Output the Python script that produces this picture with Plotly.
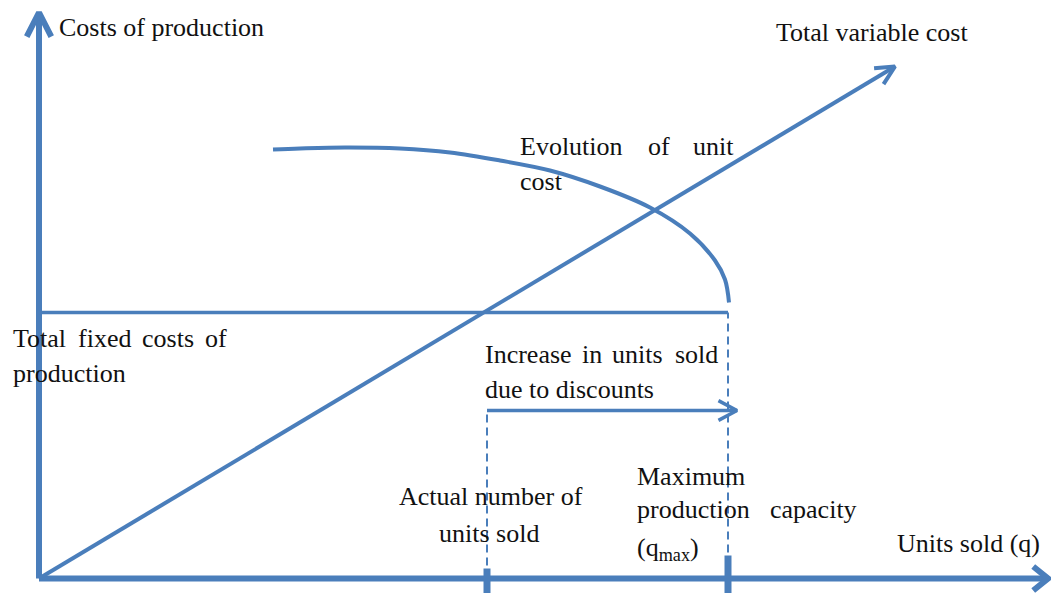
import math
import plotly.graph_objects as go

# ---------------- data (conceptual units: q = units sold, cost) ----------------
axis_q_max = 1009          # extent of the q axis arrow
axis_cost_max = 566        # extent of the cost axis arrow
q_actual = 448             # actual number of units sold
q_max = 689                # maximum production capacity
fixed_cost = 266           # total fixed cost level
tvc_q = [0, 856]           # total variable cost line
tvc_cost = [0, 512]
increase_level = 168       # height of the "increase in units sold" arrow
increase_end = 698
unit_cost_q = [234, 261, 306, 361, 411, 461, 511, 561, 611, 651, 676, 686, 690]
unit_cost = [429, 430, 431, 430, 426, 418, 408, 392, 371, 345, 318, 299, 276]
tick_len_actual = 10       # tick heights above the q axis
tick_len_max = 23

BLUE = "#4A7EBB"
FONT = dict(family="Liberation Serif, serif", size=26, color="#111111")

# pixel helpers for text placement (origin of axes at pixel 39, 578.5)
OX, OY = 39, 578.5
def px(x):
    return x - OX
def py(y):
    return OY - y

fig = go.Figure()

def line(xs, ys, width, dash=None):
    fig.add_trace(go.Scatter(x=xs, y=ys, mode="lines", hoverinfo="skip",
                             line=dict(color=BLUE, width=width, dash=dash,
                                       shape="linear")))

def chevron(tip_x, tip_y, dx, dy, length, half_angle_deg, width):
    ang = math.atan2(dy, dx) + math.pi
    h = math.radians(half_angle_deg)
    a1 = (tip_x + length * math.cos(ang + h), tip_y + length * math.sin(ang + h))
    a2 = (tip_x + length * math.cos(ang - h), tip_y + length * math.sin(ang - h))
    line([a1[0], tip_x, a2[0]], [a1[1], tip_y, a2[1]], width)

# axes
line([0, 0], [0, axis_cost_max], 6)
chevron(0, axis_cost_max, 0, 1, 27, 27, 6)
line([0, axis_q_max], [0, 0], 6)
chevron(axis_q_max, 0, 1, 0, 19, 39, 6)

# total variable cost
line(tvc_q, tvc_cost, 4)
chevron(tvc_q[1], tvc_cost[1], tvc_q[1] - tvc_q[0], tvc_cost[1] - tvc_cost[0], 21, 26, 4)

# fixed cost line
line([0, q_max], [fixed_cost, fixed_cost], 3.5)

# unit cost curve
fig.add_trace(go.Scatter(x=unit_cost_q, y=unit_cost, mode="lines", hoverinfo="skip",
                         line=dict(color=BLUE, width=4, shape="spline", smoothing=1.0)))

# dashed verticals
line([q_actual, q_actual], [0, increase_level], 2, dash="8px,5px")
line([q_max, q_max], [0, fixed_cost], 2, dash="8px,5px")

# increase arrow
line([q_actual, increase_end], [increase_level, increase_level], 3.5)
chevron(increase_end, increase_level, 1, 0, 21, 28, 3.5)

# ticks on q axis
line([q_actual, q_actual], [-15, tick_len_actual], 7)
line([q_max, q_max], [-15, tick_len_max], 7)

# ---------------- text ----------------
labels = [
    ("Costs of production", 59, 36, "left"),
    ("Total variable cost", 776, 41, "left"),
    ("Evolution", 520, 155, "left"),
    ("of", 648, 155, "left"),
    ("unit", 734, 155, "right"),
    ("cost", 520, 190, "left"),
    ("Total", 13, 347, "left"),
    ("fixed", 78, 347, "left"),
    ("costs", 142, 347, "left"),
    ("of", 227, 347, "right"),
    ("production", 13, 382, "left"),
    ("Increase", 485, 363, "left"),
    ("in", 582, 363, "left"),
    ("units", 612, 363, "left"),
    ("sold", 718, 363, "right"),
    ("due to discounts", 485, 398, "left"),
    ("Actual number of", 491, 505, "center"),
    ("units sold", 489, 542, "center"),
    ("Maximum", 637, 485, "left"),
    ("production", 637, 518, "left"),
    ("capacity", 857, 518, "right"),
    ("(q<sub>max</sub>)", 637, 558, "left"),
    ("Units sold (q)", 897, 552, "left"),
]
for text, x, base, anchor in labels:
    fig.add_annotation(text=text, x=px(x), y=py(base - 9), xref="x", yref="y",
                       xanchor=anchor, yanchor="middle", showarrow=False,
                       font=FONT, borderpad=0, borderwidth=0)

fig.update_layout(
    width=1051, height=593,
    margin=dict(l=0, r=0, t=0, b=0),
    paper_bgcolor="white", plot_bgcolor="white",
    showlegend=False, hovermode=False,
    xaxis=dict(visible=False, range=[px(0), px(1051)], fixedrange=True),
    yaxis=dict(visible=False, range=[py(593), py(0)], fixedrange=True),
)

fig.write_html("out.html", config={"displayModeBar": False},
               post_script="document.body.style.margin='0';document.body.style.overflow='hidden';")
